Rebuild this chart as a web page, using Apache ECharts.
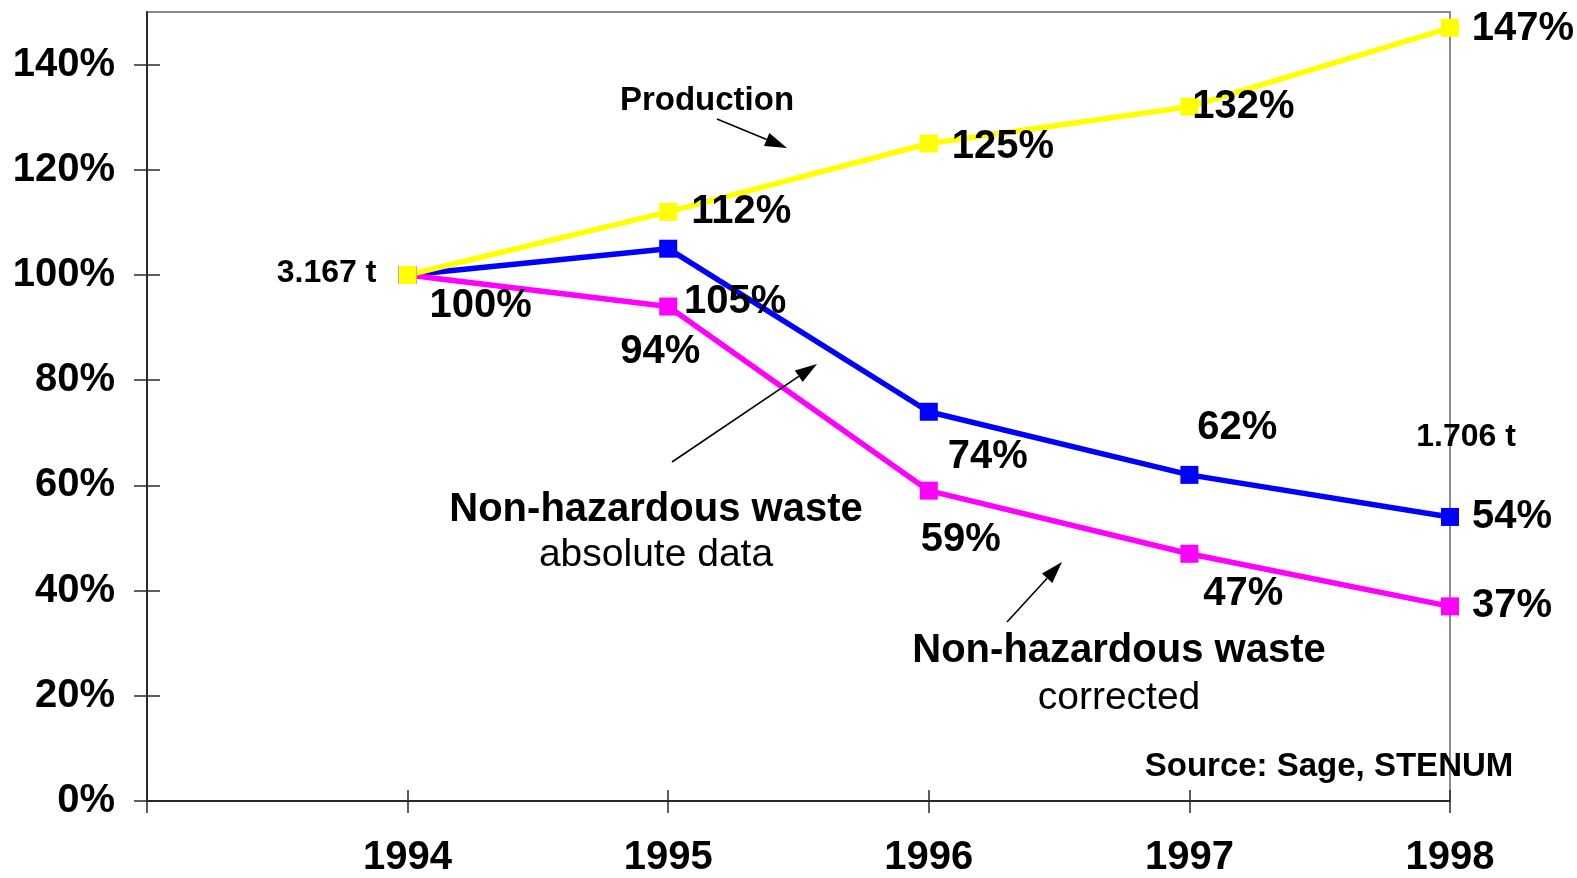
<!DOCTYPE html>
<html>
<head>
<meta charset="utf-8">
<title>Production and non-hazardous waste 1994-1998</title>
<script src="https://cdn.jsdelivr.net/npm/echarts@6/dist/echarts.min.js"></script>
<style>
  html, body { margin: 0; padding: 0; background: #fff; }
  #chart { width: 1577px; height: 878px; }
</style>
</head>
<body>
<div id="chart"></div>
<script>
// data (index 0 is the empty slot left of 1994)
const years = ['', '1994', '1995', '1996', '1997', '1998'];
const production = [null, 100, 112, 125, 132, 147];
const wasteAbsolute = [null, 100, 105, 74, 62, 54];
const wasteCorrected = [null, 100, 94, 59, 47, 37];
const yTicks = [0, 20, 40, 60, 80, 100, 120, 140];
const tonnageLabels = [['1994', 100, '3.167 t'], ['1998', 54, '1.706 t']];

// label placement, px from the point (centre of text)
const prodOffsets = [null, [73, 31], [73, 0], [74, 3], [54, 0], [73, 1]];
const absOffsets = [null, null, [67, 53], [59, 45], [48, -47], [62, 0]];
const corrOffsets = [null, null, [-8, 45], [32, 49], [54, 40], [62, 0]];
const tonnageOffsets = [[-81, -2], [16, -80]];

const FONT = "'Liberation Sans', Arial, Helvetica, sans-serif";

const labelBase = {
  position: 'inside',
  formatter: '{c}%',
  fontFamily: FONT,
  fontSize: 40,
  fontWeight: 'bold',
  color: '#000',
  textBorderWidth: 0,
  textBorderColor: 'transparent'
};

function withLabels(values, offsets) {
  return values.map((v, i) => ({
    value: v,
    label: offsets[i] ? { show: true, offset: offsets[i] } : { show: false }
  }));
}

function lineSeries(name, color, values, offsets) {
  return {
    name: name,
    type: 'line',
    data: withLabels(values, offsets),
    symbol: 'rect',
    symbolSize: 18,
    lineStyle: { color: color, width: 5.5 },
    itemStyle: { color: color },
    label: Object.assign({ show: true }, labelBase),
    emphasis: { disabled: true }
  };
}

// annotation arrows: shaft + filled head
function arrow(x1, y1, x2, y2) {
  const len = Math.hypot(x2 - x1, y2 - y1);
  const ux = (x2 - x1) / len, uy = (y2 - y1) / len;
  const hl = 22, hw = 7;
  const bx = x2 - ux * hl, by = y2 - uy * hl;
  return [
    { type: 'line', z: 50, shape: { x1: x1, y1: y1, x2: bx, y2: by }, style: { stroke: '#000', lineWidth: 1.6 } },
    { type: 'polygon', z: 50, shape: { points: [[x2, y2], [bx - uy * hw, by + ux * hw], [bx + uy * hw, by - ux * hw]] }, style: { fill: '#000' } }
  ];
}

function note(text, x, y, size, weight) {
  return {
    type: 'text', z: 50,
    style: {
      text: text, x: x, y: y,
      fontFamily: FONT, fontSize: size, fontWeight: weight,
      fill: '#000', align: 'center', verticalAlign: 'middle'
    }
  };
}

const axisColor = '#2a2a2a';

const chart = echarts.init(document.getElementById('chart'));
chart.setOption({
  animation: false,
  backgroundColor: '#fff',
  grid: {
    left: 147, right: 127, top: 12, bottom: 74,
    show: true, borderColor: '#8c8c8c', borderWidth: 2, backgroundColor: 'transparent'
  },
  xAxis: [
    {
      type: 'category', data: years, boundaryGap: false, position: 'bottom', z: 5,
      axisLine: { lineStyle: { color: axisColor, width: 2 } },
      axisTick: { interval: 0, length: 12, lineStyle: { color: axisColor, width: 1.5 } },
      axisLabel: { interval: 0, margin: 37, fontFamily: FONT, fontSize: 40, fontWeight: 'bold', color: '#000' },
      splitLine: { show: false }
    },
    {
      type: 'category', data: years, boundaryGap: false, position: 'bottom', z: 5,
      axisLine: { show: false },
      axisTick: { interval: 0, inside: true, length: 11, lineStyle: { color: axisColor, width: 1.5 } },
      axisLabel: { show: false },
      splitLine: { show: false }
    }
  ],
  yAxis: [
    {
      type: 'value', min: 0, max: 150, interval: 20, position: 'left', z: 5,
      axisLine: { show: true, lineStyle: { color: axisColor, width: 2 } },
      axisTick: { show: true, length: 13, customValues: yTicks, lineStyle: { color: axisColor, width: 1.5 } },
      axisLabel: {
        customValues: yTicks, formatter: '{value}%', margin: 32,
        fontFamily: FONT, fontSize: 40, fontWeight: 'bold', color: '#000'
      },
      splitLine: { show: false }
    },
    {
      type: 'value', min: 0, max: 150, interval: 20, position: 'left', z: 5,
      axisLine: { show: false },
      axisTick: { show: true, inside: true, length: 13, customValues: yTicks, lineStyle: { color: axisColor, width: 1.5 } },
      axisLabel: { show: false },
      splitLine: { show: false }
    }
  ],
  series: [
    Object.assign(lineSeries('Non-hazardous waste absolute data', '#0000ff', wasteAbsolute, absOffsets), {
      markPoint: {
        symbol: 'rect', symbolSize: 1,
        itemStyle: { color: 'rgba(0,0,0,0)' },
        label: {
          show: true, position: 'inside', formatter: '{b}',
          fontFamily: FONT, fontSize: 32, fontWeight: 'bold', color: '#000',
          textBorderWidth: 0, textBorderColor: 'transparent'
        },
        data: tonnageLabels.map((t, i) => ({ coord: [t[0], t[1]], name: t[2], label: { offset: tonnageOffsets[i] } }))
      }
    }),
    lineSeries('Non-hazardous waste corrected', '#ff00ff', wasteCorrected, corrOffsets),
    lineSeries('Production', '#ffff00', production, prodOffsets)
  ],
  graphic: [
    note('Production', 707, 101, 33, 'bold'),
    note('Non-hazardous waste', 656, 510, 40, 'bold'),
    note('absolute data', 656, 555, 39, 'normal'),
    note('Non-hazardous waste', 1119, 651, 40, 'bold'),
    note('corrected', 1119, 698, 39, 'normal'),
    note('Source: Sage, STENUM', 1329, 767, 33, 'bold')
  ].concat(arrow(717, 119, 787, 148), arrow(672, 462, 817, 364), arrow(1007, 622, 1062, 562))
});
</script>
</body>
</html>
